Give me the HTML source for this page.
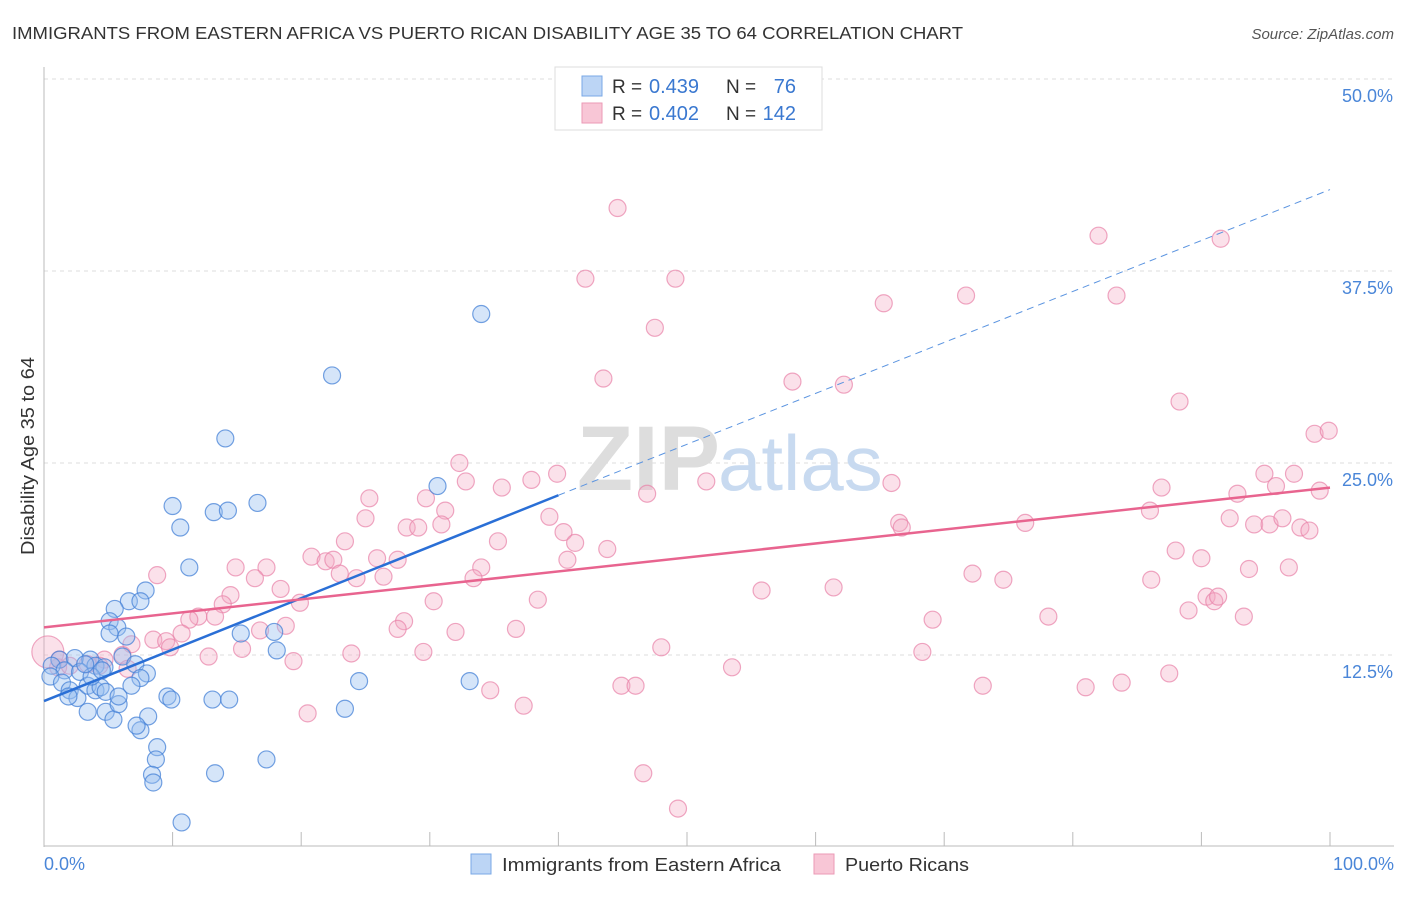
<!DOCTYPE html>
<html><head><meta charset="utf-8"><style>
body{margin:0;background:#fff;font-family:"Liberation Sans",sans-serif;}
svg text{font-family:"Liberation Sans",sans-serif;}
</style></head><body>
<svg id="chart" width="1406" height="892">
<text x="12" y="39" font-size="17.5" fill="#333" textLength="951" lengthAdjust="spacingAndGlyphs">IMMIGRANTS FROM EASTERN AFRICA VS PUERTO RICAN DISABILITY AGE 35 TO 64 CORRELATION CHART</text>
<text x="1394" y="39" font-size="15" fill="#555" font-style="italic" text-anchor="end">Source: ZipAtlas.com</text>
<text transform="translate(34,555) rotate(-90)" font-size="18" fill="#333" textLength="198" lengthAdjust="spacingAndGlyphs">Disability Age 35 to 64</text>
<g id="grid"></g>
<text x="720" y="490" font-size="92" fill="#ddd" text-anchor="end" font-weight="bold">ZIP</text>
<text x="718" y="490" font-size="78" fill="#c8daf0">atlas</text>
<g id="marks"></g>
<g id="lines"></g>
<g>
<rect x="555" y="67" width="267" height="63" fill="#fff" stroke="#ddd"/>
<rect x="582" y="76" width="20" height="20" fill="#bcd5f5" stroke="#7aa8e6"/>
<rect x="582" y="103" width="20" height="20" fill="#f8c6d6" stroke="#eb9ab6"/>
<text x="612" y="93" font-size="19" fill="#333">R =</text>
<text x="649" y="93" font-size="20" fill="#3a78d0">0.439</text>
<text x="726" y="93" font-size="19" fill="#333">N =</text>
<text x="796" y="93" font-size="20" fill="#3a78d0" text-anchor="end">76</text>
<text x="612" y="120" font-size="19" fill="#333">R =</text>
<text x="649" y="120" font-size="20" fill="#3a78d0">0.402</text>
<text x="726" y="120" font-size="19" fill="#333">N =</text>
<text x="796" y="120" font-size="20" fill="#3a78d0" text-anchor="end">142</text>
</g>
<text x="44" y="870" font-size="18" fill="#4a86d8">0.0%</text>
<text x="1394" y="870" font-size="18" fill="#4a86d8" text-anchor="end">100.0%</text>
<rect x="471" y="854" width="20" height="20" fill="#bcd5f5" stroke="#7aa8e6"/>
<text x="502" y="871" font-size="18" fill="#333" textLength="279" lengthAdjust="spacingAndGlyphs">Immigrants from Eastern Africa</text>
<rect x="814" y="854" width="20" height="20" fill="#f8c6d6" stroke="#eb9ab6"/>
<text x="845" y="871" font-size="18" fill="#333" textLength="124" lengthAdjust="spacingAndGlyphs">Puerto Ricans</text>
</svg>
<script>
const yTicks=[12.5,25,37.5,50];
const yTickLabels=["12.5%","25.0%","37.5%","50.0%"];
const blueX=[34.0,22.4,14.1,30.6,16.6,10.0,13.2,14.3,10.6,11.3,7.9,6.6,7.5,5.5,5.1,5.7,5.1,6.4,15.3,17.9,18.1,6.1,7.1,8.0,7.5,6.8,1.2,2.4,3.6,0.6,1.6,2.8,4.0,4.7,0.5,1.4,2.0,2.6,3.4,4.0,4.4,4.8,1.9,3.4,4.8,5.4,5.8,5.8,8.1,7.5,7.2,8.8,8.7,8.4,8.5,10.7,13.3,17.3,9.6,9.9,13.1,14.4,23.4,24.5,33.1,3.7,4.5,3.2];
const blueY=[34.7,30.7,26.6,23.5,22.4,22.2,21.8,21.9,20.8,18.2,16.7,16.0,16.0,15.5,14.7,14.3,13.9,13.7,13.9,14.0,12.8,12.4,11.9,11.3,11.0,10.5,12.2,12.3,12.2,11.8,11.5,11.4,11.8,11.7,11.1,10.7,10.2,9.7,10.5,10.2,10.4,10.1,9.8,8.8,8.8,8.3,9.3,9.8,8.5,7.6,7.9,6.5,5.7,4.7,4.2,1.6,4.8,5.7,9.8,9.6,9.6,9.6,9.0,10.8,10.8,11.1,11.5,11.9];
const pinkX=[44.6,82.0,91.5,42.1,49.1,71.7,83.4,65.3,47.5,43.5,58.2,62.2,88.3,98.8,99.9,32.3,39.9,32.8,37.9,35.6,51.5,65.9,94.9,97.2,95.8,86.9,99.2,25.3,46.9,29.7,31.2,86.0,92.8,25.0,39.3,30.9,28.2,29.1,66.5,66.7,76.3,92.2,94.1,95.3,96.3,97.7,98.4,40.4,41.3,23.4,35.3,43.8,88.0,90.0,20.8,21.9,22.5,25.9,27.5,40.7,17.3,14.9,34.0,23.0,24.3,26.4,16.4,8.8,33.4,72.2,74.6,86.1,93.7,96.8,18.4,14.5,55.8,61.4,90.4,91.0,91.3,30.3,38.4,19.9,13.9,12.0,13.3,11.3,28.0,18.8,16.8,27.5,36.7,32.0,89.0,93.3,78.1,69.1,10.7,8.5,9.5,6.8,9.8,6.1,15.4,23.9,29.5,48.0,68.3,12.8,19.4,4.7,4.3,3.4,1.1,2.0,6.5,53.5,87.5,44.9,46.0,73.0,81.0,83.8,34.7,20.5,37.3,46.6,49.3,0.3,1.2];
const pinkY=[41.6,39.8,39.6,37.0,37.0,35.9,35.9,35.4,33.8,30.5,30.3,30.1,29.0,26.9,27.1,25.0,24.3,23.8,23.9,23.4,23.8,23.7,24.3,24.3,23.5,23.4,23.2,22.7,23.0,22.7,21.9,21.9,23.0,21.4,21.5,21.0,20.8,20.8,21.1,20.8,21.1,21.4,21.0,21.0,21.4,20.8,20.6,20.5,19.8,19.9,19.9,19.4,19.3,18.8,18.9,18.6,18.7,18.8,18.7,18.7,18.2,18.2,18.2,17.8,17.5,17.6,17.5,17.7,17.5,17.8,17.4,17.4,18.1,18.2,16.8,16.4,16.7,16.9,16.3,16.0,16.3,16.0,16.1,15.9,15.8,15.0,15.0,14.8,14.7,14.4,14.1,14.2,14.2,14.0,15.4,15.0,15.0,14.8,13.9,13.5,13.4,13.2,13.0,12.5,12.9,12.6,12.7,13.0,12.7,12.4,12.1,12.2,11.8,11.9,11.7,11.8,11.6,11.7,11.3,10.5,10.5,10.5,10.4,10.7,10.2,8.7,9.2,4.8,2.5,12.7,12.2];
const blueTrend=[0,9.5,40,22.9];
const blueDash=[100,42.8];
const pinkTrend=[0,14.3,100,23.4];
const NS="http://www.w3.org/2000/svg";
const X0=44,X1=1330,YB=847,YS=15.36;
const sx=v=>X0+(X1-X0)*v/100, sy=v=>YB-v*YS;
function mk(t,a,p){const e=document.createElementNS(NS,t);for(const k in a)e.setAttribute(k,a[k]);p.appendChild(e);return e;}
const grid=document.getElementById('grid');
yTicks.forEach((t,i)=>{
 const l=mk('line',{x1:44,x2:1394,y1:sy(t),y2:sy(t),stroke:'#ddd','stroke-dasharray':'4,4'},grid);
 
 
 const tx=mk('text',{x:1393,y:sy(t)+23,'font-size':18,fill:'#4a86d8','text-anchor':'end'},grid);
 tx.textContent=yTickLabels[i];
 
 
});
const ax=mk('line',{x1:44,x2:44,y1:67,y2:847,stroke:'#bbb'},grid);


const bx=mk('line',{x1:44,x2:1394,y1:846,y2:846,stroke:'#bbb'},grid);


for(let i=1;i<=10;i++){const t=mk('line',{x1:sx(i*10),x2:sx(i*10),y1:832,y2:846,stroke:'#bbb'},grid);
 
 }
const marks=document.getElementById('marks');
pinkX.forEach((x,i)=>{const r=(i==pinkX.length-2)?16:8.5;
 const c=mk('circle',{cx:sx(x),cy:sy(pinkY[i]),r:r,fill:'rgba(244,170,196,0.35)',stroke:'rgba(232,130,168,0.7)','stroke-width':1.2},marks);
 
 });
blueX.forEach((x,i)=>{
 const c=mk('circle',{cx:sx(x),cy:sy(blueY[i]),r:8.5,fill:'rgba(150,190,240,0.4)',stroke:'rgba(70,130,215,0.75)','stroke-width':1.2},marks);
 
 });
const lines=document.getElementById('lines');
const b1=mk('line',{x1:sx(blueTrend[0]),y1:sy(blueTrend[1]),x2:sx(blueTrend[2]),y2:sy(blueTrend[3]),stroke:'#2a6fd6','stroke-width':2.5},lines);


const b2=mk('line',{x1:sx(blueTrend[2]),y1:sy(blueTrend[3]),x2:sx(blueDash[0]),y2:sy(blueDash[1]),stroke:'#5b94e0','stroke-width':1,'stroke-dasharray':'7,5'},lines);


const p1=mk('line',{x1:sx(pinkTrend[0]),y1:sy(pinkTrend[1]),x2:sx(pinkTrend[2]),y2:sy(pinkTrend[3]),stroke:'#e8648f','stroke-width':2.5},lines);


</script>
</body></html>
